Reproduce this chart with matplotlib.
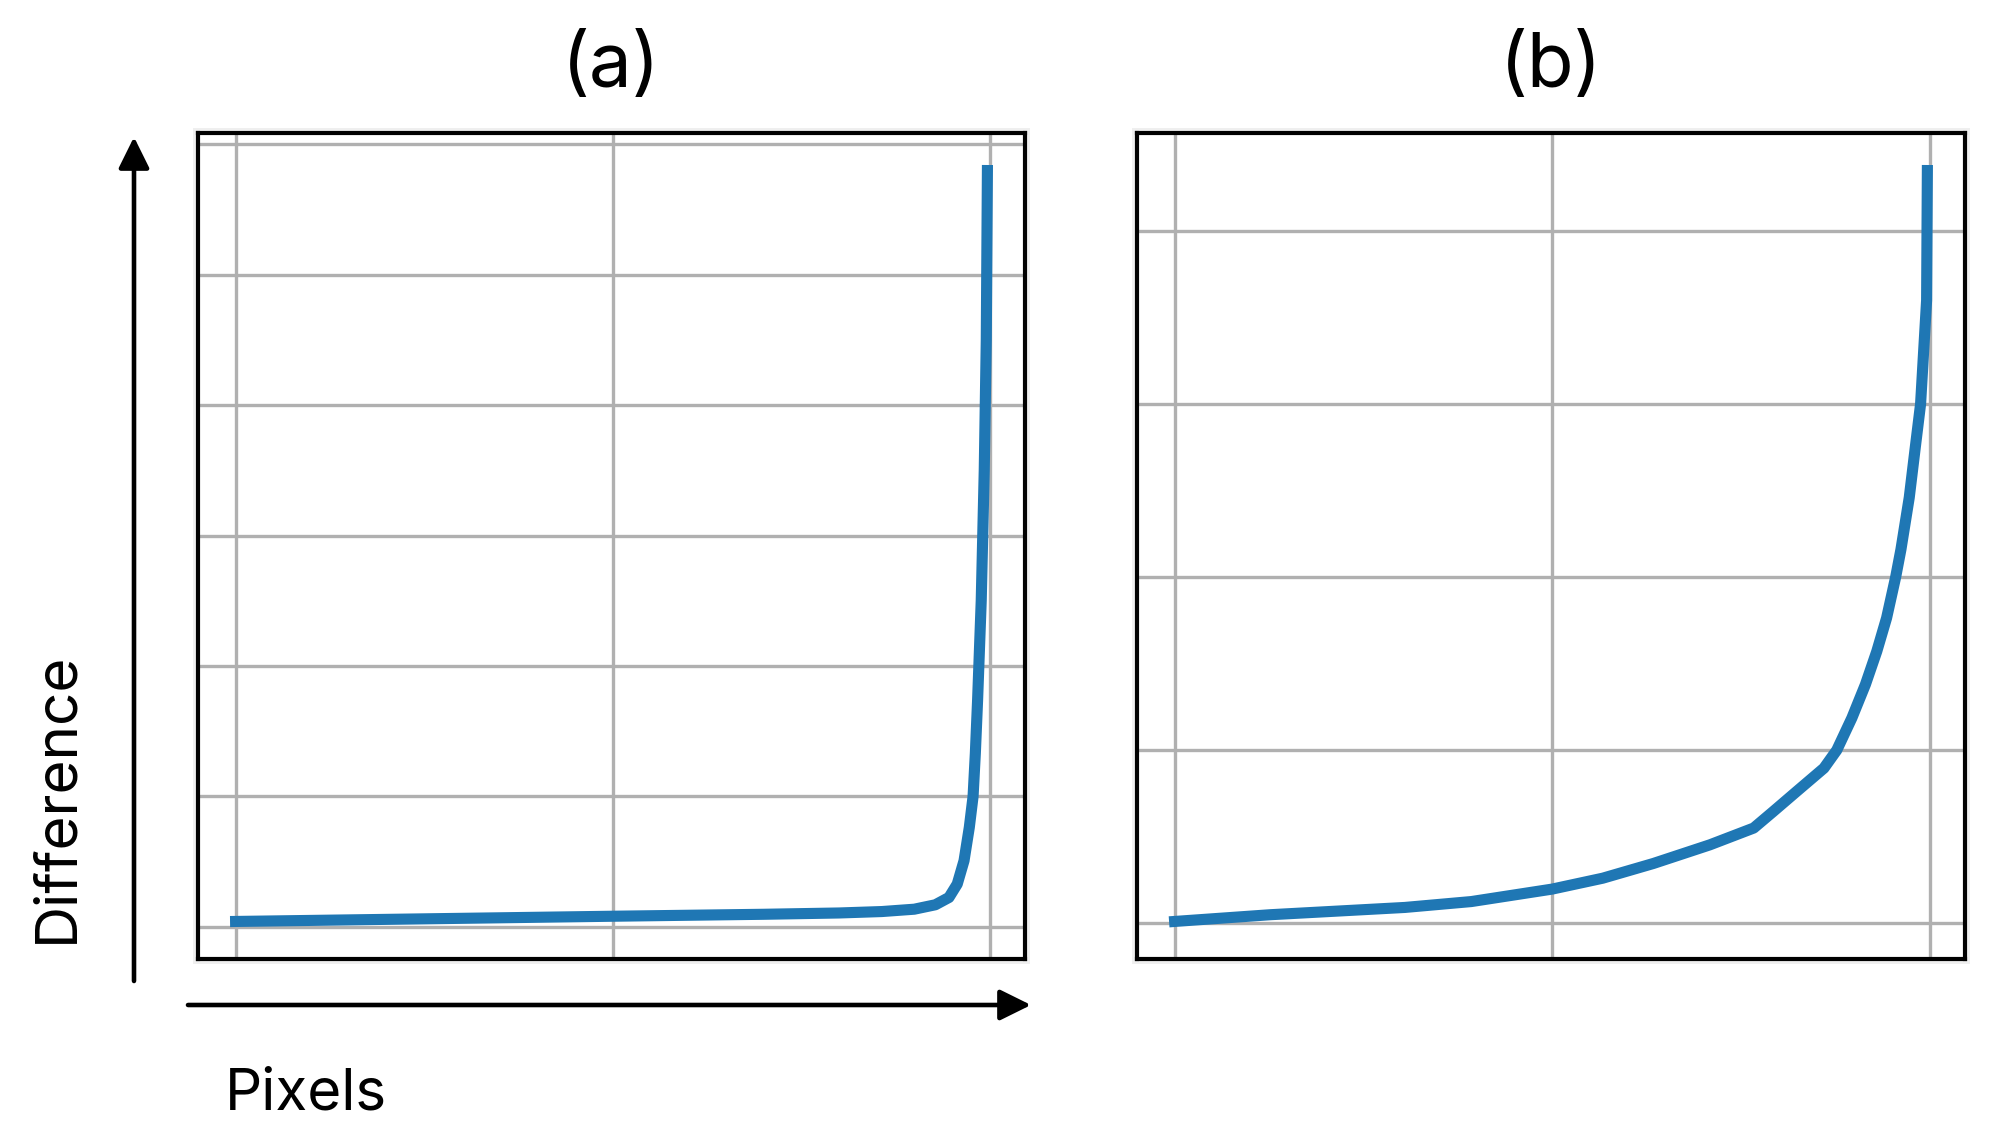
import matplotlib
matplotlib.use("Agg")
import matplotlib.pyplot as plt
from matplotlib.patches import Rectangle
from matplotlib.ticker import MultipleLocator

plt.rcParams['font.family'] = ['Inter', 'DejaVu Sans']

# ---- data ----
titles = ["(a)", "(b)"]
x_label = "Pixels"
y_label = "Difference"

a_x = [0.0, 0.25, 0.5, 0.7, 0.8, 0.857, 0.9, 0.928, 0.946, 0.957, 0.966,
       0.973, 0.978, 0.981, 0.984, 0.9888, 0.9928, 0.9955, 0.997]
a_y = [0.04, 0.06, 0.08, 0.095, 0.105, 0.116, 0.134, 0.168, 0.224, 0.327,
       0.506, 0.762, 1.0, 1.33, 1.74, 2.5, 3.5, 4.5, 5.80]

b_x = [0.0, 0.127, 0.305, 0.393, 0.5, 0.567, 0.634, 0.709, 0.767, 0.793,
       0.824, 0.860, 0.877, 0.897, 0.915, 0.930, 0.943, 0.955, 0.962, 0.973,
       0.981, 0.988, 0.992, 0.996, 0.997]
b_y = [0.01, 0.049, 0.091, 0.125, 0.197, 0.26, 0.345, 0.453, 0.55, 0.646,
       0.762, 0.896, 1.0, 1.186, 1.38, 1.571, 1.764, 2.0, 2.16, 2.46,
       2.75, 3.0, 3.3, 3.6, 4.35]

W, H = 2001, 1137
fig = plt.figure(figsize=(W / 100, H / 100), dpi=100)

def px_rect(l, t, r, b):
    return [l / W, 1 - b / H, (r - l) / W, (b - t) / H]

ax_a = fig.add_axes(px_rect(198, 133, 1025, 959))
ax_b = fig.add_axes(px_rect(1137, 133, 1965, 959))

for ax, xs, ys, title in [(ax_a, a_x, a_y, titles[0]), (ax_b, b_x, b_y, titles[1])]:
    ax.plot(xs, ys, color='#1f77b4', lw=8.0, solid_joinstyle='round', zorder=3)
    ax.set_xticks([0, 0.5, 1.0])
    ax.yaxis.set_major_locator(MultipleLocator(1))
    ax.grid(True, color='#b0b0b0', lw=2.4)
    ax.tick_params(length=0, labelbottom=False, labelleft=False)
    for s in ax.spines.values():
        s.set_linewidth(3.0)
        s.set_color('black')
    ax.set_title(title, fontsize=55, pad=33)
    # faint halo around the frame
    l, b_, w, h = ax.get_position().bounds
    dx, dy = 5 / W, 5 / H
    fig.add_artist(Rectangle((l - dx, b_ - dy), w + 2 * dx, h + 2 * dy,
                             transform=fig.transFigure, facecolor='#efefef',
                             edgecolor='none', zorder=-1))

# arrows (figure pixel coords, origin bottom-left)
arrow_kw = dict(arrowstyle='-|>,head_length=0.95,head_width=0.47',
                color='black', lw=3.3, shrinkA=0, shrinkB=0, mutation_scale=20)
ax_a.annotate('', xy=(134, H - 137), xytext=(134, H - 981),
              xycoords='figure pixels', textcoords='figure pixels',
              arrowprops=arrow_kw, annotation_clip=False)
ax_a.annotate('', xy=(1031, H - 1005), xytext=(188, H - 1005),
              xycoords='figure pixels', textcoords='figure pixels',
              arrowprops=arrow_kw, annotation_clip=False)

fig.text(57.5 / W, 1 - 797.5 / H, y_label, rotation=90, fontsize=42,
         ha='center', va='center')
fig.text(225 / W, 1 - 1109 / H, x_label, fontsize=42, ha='left', va='baseline')

fig.savefig('out.png', dpi=100, facecolor='white')
